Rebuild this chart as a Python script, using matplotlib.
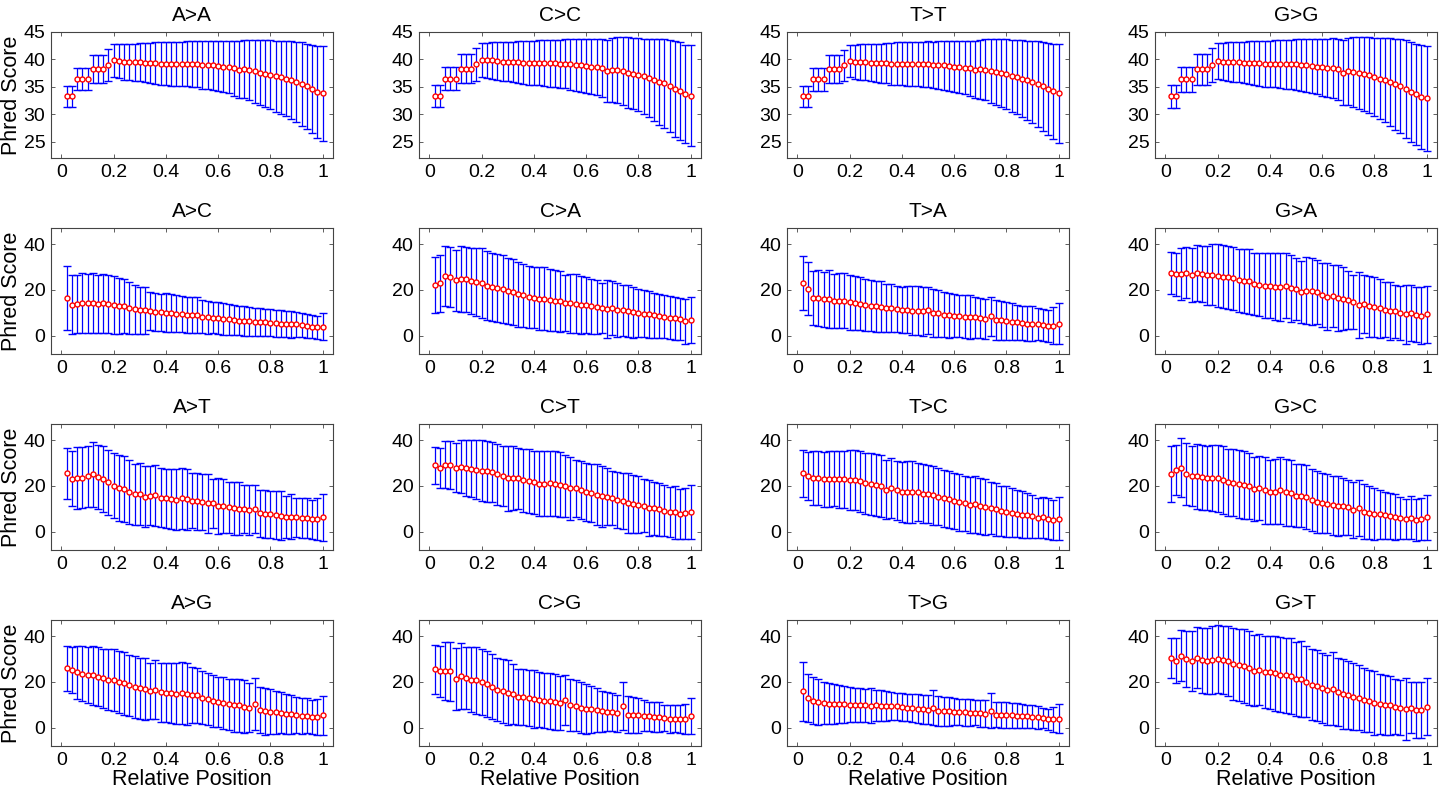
import numpy as np
import matplotlib
matplotlib.use('Agg')
import matplotlib.pyplot as plt
from matplotlib import font_manager

# font: narrow Helvetica-like if available
names = {f.name for f in font_manager.fontManager.ttflist}
fams = [f for f in ['Liberation Sans Narrow', 'Liberation Sans', 'DejaVu Sans'] if f in names]
plt.rcParams['font.family'] = fams

# relative positions (50 bins)
positions = np.arange(1, 51) / 50

titles = ['A>A', 'C>C', 'T>T', 'G>G',
          'A>C', 'C>A', 'T>A', 'G>A',
          'A>T', 'C>T', 'T>C', 'G>C',
          'A>G', 'C>G', 'T>G', 'G>T']

# mean phred score and std per position
aa_mean = [33.3, 33.3, 36.5, 36.5, 36.5, 38.2, 38.2, 38.2, 39.0, 39.8,
           39.7, 39.6, 39.6, 39.5, 39.5, 39.4, 39.3, 39.3, 39.2, 39.2,
           39.2, 39.2, 39.2, 39.2, 39.1, 39.1, 39.0, 39.0, 38.9, 38.8,
           38.7, 38.6, 38.4, 38.1, 38.2, 38.1, 37.8, 37.6, 37.4, 37.2,
           36.9, 36.7, 36.5, 36.2, 35.9, 35.5, 35.1, 34.6, 34.1, 33.8]
aa_std = [1.9, 1.9, 2.0, 2.0, 2.0, 2.6, 2.6, 2.6, 2.9, 3.0,
          3.1, 3.3, 3.3, 3.4, 3.5, 3.6, 3.7, 3.8, 3.9, 3.9,
          4.0, 4.0, 4.0, 4.1, 4.2, 4.2, 4.4, 4.4, 4.5, 4.6,
          4.7, 4.8, 5.0, 5.2, 5.3, 5.5, 5.8, 6.0, 6.1, 6.3,
          6.5, 6.7, 6.9, 7.1, 7.3, 7.6, 7.8, 8.1, 8.4, 8.7]

cc_mean = [33.3, 33.3, 36.5, 36.5, 36.5, 38.3, 38.3, 38.3, 39.1, 39.9,
           39.8, 39.8, 39.7, 39.6, 39.6, 39.5, 39.5, 39.4, 39.4, 39.4,
           39.4, 39.3, 39.3, 39.3, 39.2, 39.2, 39.1, 39.0, 38.9, 38.8,
           38.7, 38.6, 38.5, 37.9, 38.1, 38.0, 37.8, 37.6, 37.4, 37.2,
           36.9, 36.6, 36.3, 35.9, 35.6, 35.1, 34.6, 34.2, 33.7, 33.4]
cc_std = [2.0, 2.0, 2.1, 2.1, 2.1, 2.7, 2.7, 2.7, 3.0, 3.1,
          3.2, 3.3, 3.4, 3.5, 3.6, 3.7, 3.8, 3.9, 4.0, 4.0,
          4.1, 4.2, 4.3, 4.3, 4.4, 4.5, 4.6, 4.7, 4.8, 4.9,
          5.0, 5.1, 5.3, 5.6, 5.8, 6.0, 6.2, 6.4, 6.5, 6.7,
          6.9, 7.2, 7.5, 7.8, 8.1, 8.4, 8.7, 8.9, 9.0, 9.2]

tt_mean = [33.3, 33.3, 36.4, 36.4, 36.4, 38.2, 38.2, 38.2, 38.9, 39.7,
           39.6, 39.5, 39.5, 39.4, 39.4, 39.3, 39.3, 39.2, 39.2, 39.2,
           39.2, 39.2, 39.2, 39.1, 39.1, 39.0, 39.0, 38.9, 38.8, 38.7,
           38.6, 38.5, 38.4, 38.1, 38.2, 38.1, 37.9, 37.7, 37.5, 37.3,
           37.0, 36.8, 36.5, 36.2, 35.9, 35.5, 35.1, 34.6, 34.2, 33.8]
tt_std = [1.9, 1.9, 2.1, 2.1, 2.1, 2.6, 2.6, 2.6, 2.9, 3.0,
          3.1, 3.3, 3.3, 3.4, 3.5, 3.6, 3.7, 3.8, 3.9, 3.9,
          4.0, 4.0, 4.0, 4.1, 4.2, 4.2, 4.4, 4.4, 4.5, 4.6,
          4.7, 4.8, 5.0, 5.2, 5.4, 5.6, 5.8, 6.0, 6.2, 6.4,
          6.6, 6.8, 7.0, 7.2, 7.5, 7.8, 8.1, 8.4, 8.7, 9.0]

gg_mean = [33.3, 33.3, 36.4, 36.4, 36.4, 38.2, 38.2, 38.2, 39.0, 39.7,
           39.6, 39.6, 39.5, 39.5, 39.4, 39.4, 39.3, 39.3, 39.2, 39.2,
           39.2, 39.2, 39.1, 39.1, 39.1, 39.0, 38.9, 38.8, 38.7, 38.6,
           38.5, 38.4, 38.2, 37.6, 37.8, 37.7, 37.5, 37.3, 37.1, 36.8,
           36.5, 36.2, 35.9, 35.5, 35.1, 34.6, 34.1, 33.6, 33.2, 32.9]
gg_std = [2.1, 2.1, 2.3, 2.3, 2.3, 2.8, 2.8, 2.8, 3.1, 3.3,
          3.4, 3.5, 3.6, 3.7, 3.8, 3.9, 4.0, 4.1, 4.2, 4.2,
          4.3, 4.4, 4.5, 4.5, 4.6, 4.7, 4.9, 5.0, 5.1, 5.2,
          5.3, 5.5, 5.6, 5.9, 6.1, 6.3, 6.5, 6.7, 6.9, 7.1,
          7.4, 7.7, 8.0, 8.3, 8.6, 8.9, 9.1, 9.3, 9.5, 9.6]

ac_mean = [16.4, 13.5, 13.8, 14.1, 14.1, 14.1, 13.8, 14.1, 13.7, 13.4,
           13.1, 12.8, 12.2, 11.5, 11.1, 11.1, 10.8, 10.4, 10.2, 10.1,
           9.8, 9.6, 9.4, 9.1, 8.9, 8.9, 8.2, 8.1, 7.9, 7.6,
           7.3, 7.1, 6.8, 6.5, 6.3, 6.2, 6.0, 5.9, 5.8, 5.6,
           5.5, 5.3, 5.2, 5.0, 4.9, 4.6, 4.3, 3.9, 3.6, 3.9]
ac_std = [14.0, 12.8, 12.8, 13.1, 12.9, 13.1, 12.8, 12.8, 12.6, 12.5,
          12.2, 11.8, 11.3, 10.7, 10.3, 10.2, 8.3, 8.4, 8.2, 8.5,
          8.3, 8.1, 8.0, 7.9, 7.9, 7.9, 7.2, 7.2, 6.9, 6.9,
          6.8, 6.7, 6.6, 6.4, 6.5, 6.3, 6.2, 6.0, 6.0, 5.9,
          5.9, 5.9, 5.7, 5.8, 5.6, 5.3, 5.3, 5.0, 5.2, 5.9]

ca_mean = [22.0, 22.8, 26.1, 25.5, 24.1, 24.8, 24.6, 24.0, 23.3, 23.0,
           21.9, 21.3, 20.9, 20.3, 19.4, 19.0, 18.0, 17.6, 17.0, 16.6,
           16.2, 16.2, 15.6, 15.3, 15.0, 14.4, 14.2, 13.9, 13.5, 13.2,
           12.9, 12.6, 12.2, 11.5, 11.9, 11.3, 11.0, 10.7, 10.3, 10.0,
           9.6, 9.3, 9.0, 8.6, 8.3, 7.9, 7.6, 7.2, 6.3, 6.8]
ca_std = [12.3, 12.3, 13.2, 13.1, 13.4, 14.3, 14.2, 14.4, 14.9, 15.2,
          15.2, 14.9, 14.8, 14.7, 14.4, 14.4, 14.1, 13.7, 13.6, 13.3,
          13.6, 13.7, 13.4, 13.3, 13.3, 12.2, 12.9, 12.9, 12.7, 12.2,
          12.0, 11.7, 10.9, 12.7, 11.8, 11.7, 11.3, 11.3, 11.1, 10.4,
          10.2, 10.4, 9.8, 9.7, 9.3, 9.3, 9.3, 9.3, 9.8, 10.0]

ta_mean = [23.1, 20.5, 16.5, 16.6, 15.8, 16.1, 15.1, 15.3, 15.3, 14.6,
           14.2, 14.0, 13.3, 13.0, 12.8, 12.7, 12.0, 12.0, 11.6, 11.3,
           11.3, 10.9, 10.9, 10.7, 11.0, 9.8, 9.7, 9.2, 8.9, 8.7,
           8.5, 8.3, 8.1, 8.0, 7.7, 7.3, 8.4, 6.9, 6.7, 6.4,
           6.1, 5.8, 5.5, 5.3, 5.2, 5.0, 4.7, 4.3, 4.4, 5.2]
ta_std = [11.8, 11.5, 11.9, 12.2, 11.8, 12.6, 11.8, 11.9, 12.1, 12.0,
          11.8, 11.4, 11.3, 11.1, 11.2, 11.3, 10.4, 10.4, 10.1, 10.1,
          10.2, 10.7, 10.8, 10.7, 10.4, 10.5, 10.4, 9.8, 9.7, 9.3,
          9.1, 9.4, 9.5, 8.9, 8.9, 8.9, 8.6, 8.8, 8.6, 8.4,
          8.2, 7.5, 7.5, 7.7, 7.6, 7.1, 7.0, 7.1, 8.0, 9.0]

ga_mean = [27.5, 26.8, 26.9, 27.4, 26.6, 27.4, 26.9, 26.3, 26.5, 26.2,
           25.7, 25.5, 25.0, 24.2, 24.0, 23.7, 22.6, 22.3, 21.7, 21.7,
           21.4, 21.3, 21.9, 20.6, 20.4, 19.0, 19.7, 19.3, 19.0, 17.8,
           17.0, 17.2, 16.4, 16.2, 15.6, 14.7, 13.3, 13.9, 12.8, 12.5,
           12.0, 11.4, 10.6, 10.6, 9.9, 9.4, 9.8, 9.2, 8.8, 9.4]
ga_std = [9.2, 9.4, 11.3, 11.1, 11.8, 12.1, 12.4, 12.7, 13.3, 13.7,
          13.8, 13.8, 13.6, 13.8, 13.9, 14.1, 13.4, 13.6, 14.2, 14.2,
          14.5, 14.7, 14.4, 14.6, 13.4, 13.6, 14.6, 14.7, 14.0, 14.0,
          14.7, 13.5, 14.3, 13.6, 12.8, 11.8, 14.5, 12.8, 13.3, 13.0,
          12.9, 11.9, 12.7, 11.7, 11.7, 12.9, 12.2, 12.1, 12.5, 12.4]

at_mean = [25.4, 23.2, 23.4, 23.6, 24.1, 25.0, 23.9, 23.0, 21.5, 20.1,
           19.2, 18.7, 17.3, 16.3, 16.4, 15.3, 15.7, 15.8, 14.8, 14.5,
           14.2, 14.0, 14.6, 14.1, 13.5, 13.2, 12.8, 12.3, 12.3, 11.1,
           11.2, 10.6, 10.2, 10.1, 9.9, 9.5, 9.9, 8.0, 7.6, 7.5,
           7.2, 7.0, 6.4, 6.6, 6.2, 5.9, 5.9, 5.4, 5.4, 6.3]
at_std = [11.3, 12.2, 13.4, 13.4, 13.5, 14.3, 14.1, 14.5, 14.3, 14.2,
          14.4, 14.3, 14.0, 13.3, 13.4, 13.3, 12.9, 13.2, 12.8, 13.0,
          13.0, 13.2, 13.4, 13.3, 12.1, 12.4, 12.2, 12.7, 10.9, 12.3,
          11.7, 11.3, 11.5, 11.6, 10.5, 10.9, 10.5, 10.4, 10.4, 10.3,
          10.4, 10.6, 9.3, 9.7, 8.5, 8.8, 8.8, 8.5, 9.2, 10.3]

ct_mean = [28.9, 27.8, 29.2, 29.0, 27.9, 28.4, 27.6, 27.4, 27.0, 26.6,
           26.3, 25.9, 25.0, 24.3, 23.3, 23.4, 23.3, 22.4, 22.2, 21.5,
           21.0, 21.0, 21.1, 20.9, 20.5, 19.9, 18.9, 18.9, 18.3, 17.3,
           16.8, 16.1, 15.4, 15.3, 14.7, 14.0, 13.2, 12.5, 12.2, 11.7,
           11.4, 10.5, 10.2, 9.8, 9.2, 8.7, 8.4, 7.8, 8.1, 8.6]
ct_std = [8.2, 8.6, 10.3, 10.5, 10.8, 11.6, 12.2, 12.4, 12.8, 13.2,
          13.4, 13.1, 13.2, 13.3, 14.1, 13.8, 13.3, 13.7, 13.9, 13.8,
          14.3, 14.3, 14.3, 14.1, 14.2, 13.7, 13.8, 12.5, 12.6, 12.8,
          12.7, 13.3, 13.2, 12.5, 11.9, 12.2, 12.2, 13.1, 12.7, 12.4,
          11.6, 12.2, 11.7, 11.6, 11.1, 11.0, 11.6, 10.9, 11.1, 11.7]

tc_mean = [25.4, 24.3, 23.4, 23.5, 22.8, 23.0, 23.2, 22.8, 22.8, 22.6,
           22.5, 22.1, 21.1, 20.8, 20.3, 19.8, 18.4, 19.0, 18.0, 17.3,
           17.3, 17.4, 17.3, 16.6, 16.3, 15.8, 15.3, 14.6, 14.1, 13.4,
           12.8, 12.3, 11.6, 12.0, 11.1, 10.7, 10.3, 9.7, 9.0, 8.7,
           8.3, 7.9, 7.4, 7.1, 6.7, 6.0, 6.2, 5.6, 5.0, 5.7]
tc_std = [10.4, 10.6, 11.6, 11.8, 12.0, 12.3, 12.2, 12.4, 12.4, 13.2,
          13.2, 13.3, 13.3, 13.6, 13.4, 13.6, 13.0, 13.0, 12.8, 13.2,
          13.5, 13.4, 12.7, 12.9, 12.7, 12.8, 12.5, 12.4, 12.4, 12.2,
          12.3, 12.0, 12.1, 12.4, 12.2, 12.1, 11.4, 11.5, 11.1, 11.2,
          10.6, 10.1, 10.2, 9.9, 9.3, 8.7, 8.9, 8.9, 8.8, 9.4]

gc_mean = [25.0, 27.1, 28.0, 25.3, 24.5, 24.1, 23.7, 23.4, 23.4, 23.4,
           22.6, 21.6, 21.4, 20.9, 20.4, 19.8, 18.5, 19.0, 18.0, 17.4,
           17.5, 18.0, 17.2, 16.9, 15.7, 15.7, 15.2, 13.8, 13.0, 12.7,
           12.2, 11.6, 11.1, 11.0, 10.6, 9.5, 10.2, 8.7, 8.3, 7.8,
           7.5, 7.1, 6.8, 6.4, 6.1, 5.5, 6.0, 5.2, 5.5, 6.2]
gc_std = [12.2, 10.9, 13.0, 13.6, 13.1, 14.2, 14.3, 14.1, 14.4, 14.6,
          14.9, 14.6, 14.6, 14.8, 14.9, 14.4, 13.9, 14.1, 14.5, 14.0,
          14.3, 14.8, 14.7, 14.6, 13.8, 13.7, 14.1, 13.5, 13.7, 13.1,
          12.8, 12.9, 13.2, 12.4, 12.1, 12.1, 12.2, 11.9, 11.5, 11.3,
          10.9, 10.3, 9.9, 9.9, 9.2, 8.8, 9.4, 9.1, 9.2, 9.9]

ag_mean = [25.9, 25.2, 24.1, 23.6, 22.9, 22.8, 22.2, 21.6, 21.0, 20.8,
           20.0, 19.3, 18.6, 17.7, 17.2, 16.8, 16.0, 16.5, 15.4, 15.3,
           15.2, 14.9, 15.1, 14.7, 14.4, 14.1, 13.1, 12.5, 11.7, 11.2,
           10.7, 10.2, 9.8, 9.7, 9.2, 8.7, 10.4, 7.8, 7.2, 7.0,
           6.7, 6.5, 6.0, 5.8, 5.5, 5.2, 5.3, 4.7, 4.7, 5.4]
ag_std = [9.9, 10.2, 11.5, 11.9, 12.3, 12.8, 12.9, 12.9, 13.5, 13.7,
          13.6, 13.8, 13.3, 13.5, 13.3, 13.5, 12.2, 12.9, 12.9, 13.0,
          13.1, 13.3, 13.6, 13.5, 12.2, 12.1, 11.7, 11.3, 11.3, 10.9,
          11.3, 11.2, 11.5, 11.6, 11.4, 10.7, 11.2, 10.0, 10.2, 9.8,
          9.5, 9.0, 8.6, 8.4, 7.8, 7.9, 7.8, 7.3, 7.9, 8.6]

cg_mean = [25.4, 24.6, 24.8, 24.6, 21.3, 22.6, 21.6, 21.0, 20.7, 19.9,
           19.0, 17.9, 16.6, 16.0, 15.3, 14.7, 13.4, 13.2, 12.9, 12.5,
           12.2, 11.8, 11.6, 11.3, 10.7, 12.2, 9.8, 9.5, 8.8, 8.3,
           8.0, 7.6, 7.2, 6.9, 6.7, 6.3, 9.4, 5.7, 5.5, 5.4,
           5.2, 4.9, 4.6, 4.6, 4.3, 3.9, 3.9, 3.8, 3.9, 5.1]
cg_std = [10.8, 11.0, 12.8, 13.0, 13.6, 14.3, 13.4, 14.0, 14.6, 14.5,
          14.5, 14.2, 13.6, 13.9, 14.1, 13.1, 12.3, 12.2, 12.1, 12.5,
          11.9, 11.9, 12.1, 12.2, 11.8, 11.0, 11.3, 11.1, 11.1, 10.9,
          10.4, 9.7, 9.0, 8.5, 8.3, 8.1, 10.6, 8.2, 7.8, 7.6,
          6.8, 6.4, 6.7, 6.4, 5.7, 6.1, 5.9, 6.0, 6.6, 8.0]

tg_mean = [15.9, 12.9, 11.8, 11.3, 10.7, 10.5, 10.4, 10.3, 10.2, 10.1,
           9.9, 9.8, 9.7, 9.6, 9.7, 9.6, 9.5, 9.4, 9.3, 9.1,
           8.8, 8.5, 8.2, 8.0, 7.9, 8.7, 7.3, 7.2, 7.1, 7.0,
           6.9, 6.7, 6.6, 6.5, 6.2, 6.1, 7.4, 5.7, 5.6, 5.5,
           5.4, 5.2, 5.1, 5.0, 4.7, 4.5, 4.2, 3.7, 3.6, 4.0]
tg_std = [12.8, 10.6, 10.2, 10.1, 9.2, 9.1, 8.8, 8.3, 8.2, 7.7,
          7.6, 7.5, 7.2, 7.6, 6.9, 6.7, 6.4, 6.1, 6.0, 6.0,
          6.0, 6.1, 6.3, 6.4, 6.5, 7.6, 6.5, 6.3, 6.2, 5.9,
          5.8, 5.9, 5.7, 5.5, 5.7, 5.9, 7.6, 5.6, 5.7, 5.6,
          5.5, 5.5, 5.3, 5.0, 5.0, 4.9, 4.5, 4.5, 5.4, 6.4]

gt_mean = [30.4, 29.2, 31.5, 30.0, 29.2, 30.6, 29.5, 29.1, 29.6, 30.1,
           29.5, 29.0, 27.8, 27.4, 26.9, 26.1, 24.9, 25.2, 24.2, 24.1,
           23.7, 23.2, 22.8, 22.5, 21.2, 21.3, 20.1, 18.8, 18.3, 17.4,
           16.6, 17.0, 15.7, 14.8, 14.4, 13.6, 13.0, 12.2, 11.6, 10.8,
           10.5, 9.9, 9.7, 9.2, 8.6, 8.2, 8.8, 7.9, 7.9, 9.1]
gt_std = [8.7, 9.9, 11.3, 12.4, 13.1, 13.5, 14.2, 14.5, 14.9, 14.9,
          15.0, 15.2, 15.7, 15.6, 16.0, 16.1, 15.6, 15.5, 15.8, 16.1,
          16.4, 16.5, 16.5, 16.5, 16.2, 16.6, 15.4, 15.5, 15.5, 15.2,
          15.3, 16.0, 14.9, 15.2, 14.9, 14.7, 14.2, 14.0, 13.7, 13.8,
          13.1, 13.0, 12.7, 12.1, 12.0, 13.5, 11.2, 12.2, 12.2, 12.5]

means = [aa_mean, cc_mean, tt_mean, gg_mean,
         ac_mean, ca_mean, ta_mean, ga_mean,
         at_mean, ct_mean, tc_mean, gc_mean,
         ag_mean, cg_mean, tg_mean, gt_mean]
stds = [aa_std, cc_std, tt_std, gg_std,
        ac_std, ca_std, ta_std, ga_std,
        at_std, ct_std, tc_std, gc_std,
        ag_std, cg_std, tg_std, gt_std]

W, H = 1440, 792
fig = plt.figure(figsize=(W / 100, H / 100), dpi=100)

ax_left, ax_pitch, ax_w = 51, 368, 282
ax_top, row_pitch, ax_h = 32, 196, 126

for i in range(16):
    r, c = divmod(i, 4)
    left = ax_left + c * ax_pitch
    top = ax_top + r * row_pitch
    ax = fig.add_axes([left / W, 1 - (top + ax_h) / H, ax_w / W, ax_h / H])
    ax.errorbar(positions, means[i], yerr=stds[i], fmt='o', ms=3.6,
                mfc='white', mec='red', mew=1.0, ecolor='blue',
                elinewidth=0.9, capsize=2.6, capthick=0.9)
    ax.set_xlim(-0.04, 1.04)
    ax.set_xticks([0, 0.2, 0.4, 0.6, 0.8, 1])
    ax.set_xticklabels(['0', '0.2', '0.4', '0.6', '0.8', '1'])
    if r == 0:
        ax.set_ylim(22, 45)
        ax.set_yticks([25, 30, 35, 40, 45])
    else:
        ax.set_ylim(-8, 47)
        ax.set_yticks([0, 20, 40])
    ax.tick_params(direction='in', top=True, right=True, length=3,
                   width=0.6, color='#444444', labelsize=14, pad=4)
    for s in ax.spines.values():
        s.set_color('#444444')
        s.set_linewidth(0.8)
    ax.set_title(titles[i], fontsize=15, pad=8)
    if c == 0:
        ax.set_ylabel('Phred Score', fontsize=15.5)
        # anchor is the right edge of the rotated label, ~22 px from the left
        ax.yaxis.set_label_coords(-29 / ax_w, 0.5)
    if r == 3:
        ax.set_xlabel('Relative Position', fontsize=15.5, labelpad=0)

fig.savefig('out.png', dpi=100)
